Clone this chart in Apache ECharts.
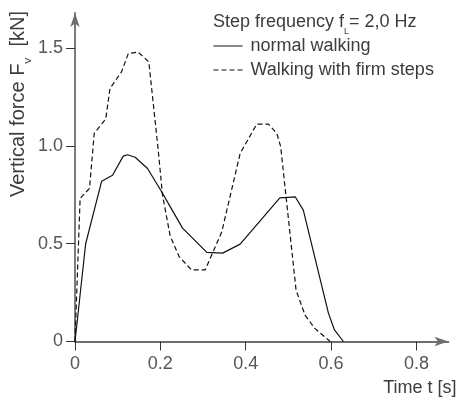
<!DOCTYPE html>
<html>
<head>
<meta charset="utf-8">
<script src="https://cdn.jsdelivr.net/npm/echarts@6/dist/echarts.min.js"></script>
<style>
html,body{margin:0;padding:0;background:#fff;}
#c{width:457px;height:401px;}
</style>
</head>
<body>
<div id="c"></div>
<script>
// Data
var tNormal = [0, 0.025, 0.0625, 0.088, 0.113, 0.123, 0.141, 0.17, 0.203, 0.223, 0.252, 0.309, 0.346, 0.387, 0.48, 0.516, 0.535, 0.594, 0.608, 0.629];
var fNormal = [0, 0.50, 0.82, 0.85, 0.948, 0.955, 0.942, 0.885, 0.766, 0.69, 0.58, 0.456, 0.452, 0.498, 0.735, 0.74, 0.672, 0.144, 0.059, 0];
var tFirm = [0, 0.012, 0.034, 0.045, 0.072, 0.082, 0.109, 0.125, 0.148, 0.173, 0.195, 0.205, 0.223, 0.244, 0.273, 0.305, 0.344, 0.387, 0.426, 0.453, 0.473, 0.482, 0.518, 0.539, 0.562, 0.598];
var fFirm = [0, 0.732, 0.783, 1.064, 1.138, 1.294, 1.379, 1.473, 1.48, 1.43, 0.979, 0.75, 0.54, 0.434, 0.366, 0.366, 0.561, 0.962, 1.112, 1.112, 1.064, 0.996, 0.263, 0.135, 0.067, 0];
var xTicks = [0, 0.2, 0.4, 0.6, 0.8];
var yTicks = [0, 0.5, 1.0, 1.5];
var seriesNames = ['normal walking', 'Walking with firm steps'];

function pairs(t, f) { return t.map(function (v, i) { return [v, f[i]]; }); }

var FONT = 'Liberation Sans, Arial, Helvetica, sans-serif';
var TXT = '#3c3c3c';
var chart = echarts.init(document.getElementById('c'));
chart.setOption({
  animation: false,
  grid: { left: 75, right: 8.6, top: 13, bottom: 59.5 },
  xAxis: {
    type: 'value', min: 0, max: 0.875, interval: 0.2,
    splitLine: { show: false },
    axisLine: { show: true, symbol: ['none', 'arrow'], symbolSize: [7, 14], lineStyle: { color: '#6e6e6e', width: 1.8 } },
    axisTick: { show: true, length: 9, customValues: xTicks, lineStyle: { color: '#333', width: 1 } },
    axisLabel: { customValues: xTicks, margin: 14, fontSize: 18, color: '#555', fontFamily: FONT,
      formatter: function (v) { return v === 0 ? '0' : v.toFixed(1); } }
  },
  yAxis: {
    type: 'value', min: 0, max: 1.68, interval: 0.5,
    splitLine: { show: false },
    axisLine: { show: true, onZero: false, symbol: ['none', 'arrow'], symbolSize: [7, 14], lineStyle: { color: '#6e6e6e', width: 1.8 } },
    axisTick: { show: true, length: 9, customValues: yTicks, lineStyle: { color: '#333', width: 1 } },
    axisLabel: { customValues: yTicks, margin: 12, fontSize: 18, color: '#555', fontFamily: FONT,
      formatter: function (v) { return v === 0 ? '0' : v.toFixed(1); } }
  },
  legend: {
    orient: 'vertical', left: 213, top: 37, padding: 0, itemWidth: 29, itemHeight: 14, itemGap: 6,
    itemStyle: { opacity: 0 },
    lineStyle: { width: 1 },
    textStyle: { fontSize: 18, color: TXT, fontFamily: FONT, padding: [0, 0, 0, 3] },
    data: seriesNames
  },
  series: [
    { name: seriesNames[0], type: 'line', symbol: 'none', data: pairs(tNormal, fNormal),
      lineStyle: { color: '#111', width: 1.2 }, itemStyle: { color: '#111' } },
    { name: seriesNames[1], type: 'line', symbol: 'none', data: pairs(tFirm, fFirm),
      lineStyle: { color: '#111', width: 1.2, type: [5, 3] }, itemStyle: { color: '#111' } }
  ],
  graphic: [
    { type: 'text', x: 213, y: 12.7, style: {
        text: '{a|Step frequency f}{s|L}{a|= 2,0 Hz}', verticalAlign: 'top', align: 'left',
        rich: {
          a: { fontSize: 18, lineHeight: 18, verticalAlign: 'top', fill: TXT, fontFamily: FONT },
          s: { fontSize: 9, lineHeight: 38, fill: TXT, fontFamily: FONT }
        } } },
    { type: 'text', x: 8.5, y: 104, rotation: Math.PI / 2, style: {
        text: '{a|Vertical force F}{s|V}{a|  [kN]}', verticalAlign: 'top', align: 'center',
        rich: {
          a: { fontSize: 20, lineHeight: 20, verticalAlign: 'top', fill: TXT, fontFamily: FONT },
          s: { fontSize: 9, lineHeight: 40, fill: TXT, fontFamily: FONT }
        } } },
    { type: 'text', x: 456.5, y: 388, style: {
        text: 'Time t [s]', align: 'right', verticalAlign: 'middle',
        fontSize: 18, fill: TXT, fontFamily: FONT } }
  ]
});
</script>
</body>
</html>
